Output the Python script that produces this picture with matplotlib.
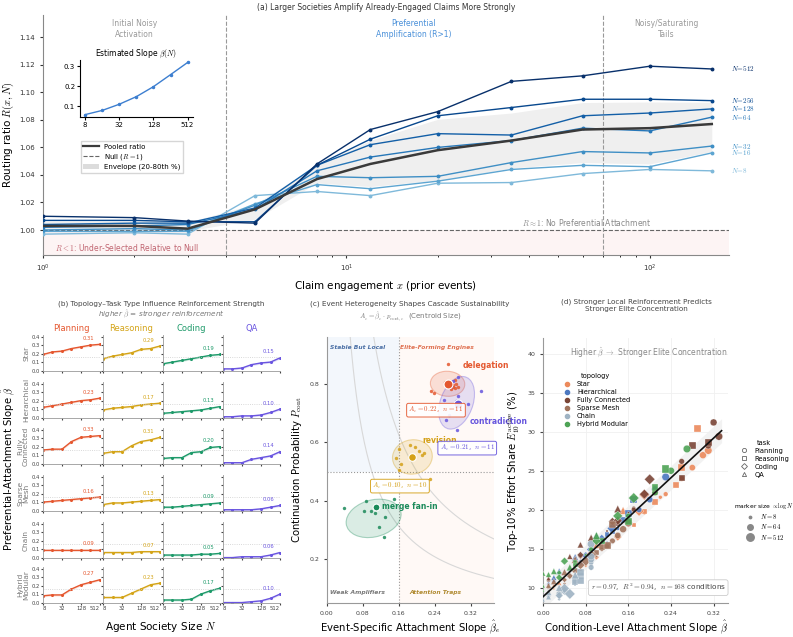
import numpy as np
import matplotlib
matplotlib.use("Agg")
import matplotlib.pyplot as plt
from matplotlib.patches import Ellipse, Patch
from matplotlib.lines import Line2D
from matplotlib.colors import to_rgba

plt.rcParams['font.family'] = ['DejaVu Sans']
plt.rcParams['mathtext.fontset'] = 'cm'

# ---------------- panel (a) data ----------------
engagement_x = [1, 2, 3, 5, 8, 12, 20, 35, 60, 100, 160]
society_sizes = [8, 16, 32, 64, 128, 256, 512]
ratio_n8 = [0.997, 0.998, 0.997, 1.025, 1.028, 1.025, 1.034, 1.0345, 1.041, 1.044, 1.043]
ratio_n16 = [0.999, 0.999, 0.999, 1.019, 1.033, 1.030, 1.0355, 1.044, 1.047, 1.046, 1.056]
ratio_n32 = [1.000, 1.001, 1.000, 1.018, 1.039, 1.038, 1.039, 1.049, 1.057, 1.056, 1.061]
ratio_n64 = [1.002, 1.003, 1.004, 1.015, 1.043, 1.053, 1.060, 1.065, 1.074, 1.072, 1.082]
ratio_n128 = [1.004, 1.005, 1.005, 1.016, 1.047, 1.062, 1.070, 1.069, 1.083, 1.085, 1.088]
ratio_n256 = [1.007, 1.007, 1.006, 1.006, 1.047, 1.066, 1.083, 1.089, 1.095, 1.095, 1.094]
ratio_n512 = [1.010, 1.009, 1.0065, 1.005, 1.048, 1.073, 1.086, 1.108, 1.112, 1.119, 1.117]
pooled_ratio = [1.003, 1.003, 1.001, 1.015, 1.037, 1.048, 1.058, 1.065, 1.073, 1.074, 1.077]
slope_beta = [0.058, 0.079, 0.110, 0.148, 0.198, 0.258, 0.319]

# ---------------- panel (b) data: rows = task (Planning, Reasoning, Coding, QA) ----------------
topologies = ['Star', 'Hierarchical', 'Fully Connected', 'Sparse Mesh', 'Chain', 'Hybrid Modular']
row_labels = ['Star', 'Hierarchical', 'Fully\nConnected', 'Sparse\nMesh', 'Chain', 'Hybrid\nModular']
tasks = ['Planning', 'Reasoning', 'Coding', 'QA']
beta_star = [[0.19, 0.22, 0.23, 0.26, 0.28, 0.30, 0.31],
             [0.14, 0.17, 0.19, 0.21, 0.25, 0.26, 0.29],
             [0.08, 0.10, 0.12, 0.14, 0.16, 0.18, 0.19],
             [0.02, 0.02, 0.03, 0.07, 0.09, 0.10, 0.15]]
beta_hier = [[0.12, 0.14, 0.16, 0.18, 0.20, 0.21, 0.23],
             [0.09, 0.11, 0.12, 0.13, 0.15, 0.16, 0.17],
             [0.05, 0.06, 0.07, 0.08, 0.09, 0.11, 0.13],
             [0.01, 0.01, 0.02, 0.02, 0.03, 0.06, 0.10]]
beta_full = [[0.16, 0.17, 0.17, 0.26, 0.31, 0.32, 0.33],
             [0.12, 0.14, 0.14, 0.21, 0.26, 0.28, 0.31],
             [0.06, 0.07, 0.07, 0.13, 0.14, 0.19, 0.20],
             [0.01, 0.01, 0.01, 0.05, 0.07, 0.09, 0.14]]
beta_sparse = [[0.10, 0.11, 0.12, 0.13, 0.14, 0.15, 0.16],
               [0.07, 0.09, 0.09, 0.10, 0.11, 0.12, 0.13],
               [0.04, 0.04, 0.05, 0.06, 0.07, 0.08, 0.09],
               [0.01, 0.01, 0.01, 0.01, 0.02, 0.04, 0.06]]
beta_chain = [[0.09, 0.09, 0.09, 0.09, 0.09, 0.09, 0.09],
              [0.06, 0.06, 0.06, 0.06, 0.07, 0.07, 0.07],
              [0.03, 0.03, 0.03, 0.03, 0.04, 0.04, 0.05],
              [0.00, 0.00, 0.01, 0.01, 0.01, 0.03, 0.06]]
beta_hybrid = [[0.08, 0.09, 0.09, 0.16, 0.21, 0.24, 0.27],
               [0.06, 0.06, 0.06, 0.11, 0.16, 0.21, 0.23],
               [0.03, 0.03, 0.03, 0.04, 0.10, 0.14, 0.17],
               [0.00, 0.00, 0.00, 0.01, 0.02, 0.05, 0.10]]
beta_all = [beta_star, beta_hier, beta_full, beta_sparse, beta_chain, beta_hybrid]

# ---------------- panel (c) data ----------------
event_names = ['delegation', 'contradiction', 'revision', 'merge fan-in']
event_n = [11, 11, 10, 10]
centroid_beta = [0.270, 0.290, 0.190, 0.110]
centroid_pcont = [0.800, 0.732, 0.550, 0.380]
deleg_beta = [0.269, 0.285, 0.280, 0.284, 0.279, 0.290, 0.232, 0.237, 0.262, 0.275, 0.287]
deleg_p = [0.868, 0.814, 0.797, 0.785, 0.789, 0.789, 0.777, 0.768, 0.806, 0.782, 0.800]
contra_beta = [0.292, 0.341, 0.313, 0.259, 0.290, 0.271, 0.265, 0.289, 0.281, 0.275, 0.287]
contra_p = [0.823, 0.777, 0.730, 0.745, 0.757, 0.692, 0.677, 0.643, 0.811, 0.791, 0.740]
revis_beta = [0.160, 0.184, 0.195, 0.216, 0.212, 0.154, 0.164, 0.161, 0.230, 0.205]
revis_p = [0.576, 0.591, 0.583, 0.563, 0.555, 0.546, 0.525, 0.506, 0.474, 0.570]
merge_beta = [0.039, 0.086, 0.082, 0.099, 0.107, 0.130, 0.117, 0.127, 0.150, 0.112]
merge_p = [0.374, 0.400, 0.365, 0.366, 0.357, 0.346, 0.312, 0.277, 0.405, 0.380]
# spread ellipse of each event cluster (centre, extent along beta and p, tilt)
spread_cx = [0.268, 0.288, 0.190, 0.104]
spread_cy = [0.800, 0.735, 0.550, 0.340]
spread_w = [0.076, 0.074, 0.088, 0.112]
spread_h = [0.086, 0.182, 0.118, 0.140]
spread_angle = [10, -10, -5, -35]
iso_levels = [0.05, 0.10]

# ---------------- panel (d) data: top-10% effort share (%) ----------------
e10_star = [[19.5, 21.6, 22.0, 24.0, 25.4, 27.0, 27.6],
            [16.4, 18.0, 19.8, 21.0, 23.2, 25.4, 30.4],
            [12.8, 13.9, 15.5, 16.5, 18.3, 19.8, 21.9],
            [9.9, 10.3, 10.6, 13.4, 14.0, 15.5, 19.9]]
e10_hier = [[15.8, 17.6, 18.6, 20.0, 21.3, 22.6, 24.2],
            [14.3, 15.9, 16.8, 17.2, 18.7, 19.5, 21.3],
            [12.1, 12.4, 13.2, 14.1, 14.9, 16.2, 17.6],
            [10.0, 10.6, 11.0, 11.3, 12.1, 13.9, 16.6]]
e10_full = [[19.6, 20.2, 20.0, 26.2, 28.2, 31.2, 29.4],
            [17.3, 18.6, 18.2, 22.2, 24.1, 28.2, 28.6],
            [13.4, 14.0, 14.2, 18.5, 18.6, 22.0, 23.9],
            [11.4, 11.0, 11.2, 14.0, 15.5, 16.4, 20.1]]
e10_sparse = [[14.0, 14.9, 15.3, 16.0, 16.7, 17.5, 18.3],
              [12.3, 13.7, 14.1, 14.5, 15.2, 15.4, 18.1],
              [10.5, 11.0, 11.5, 12.2, 12.9, 13.4, 14.2],
              [9.8, 10.1, 9.5, 10.3, 10.8, 12.0, 13.6]]
e10_chain = [[12.4, 12.9, 13.2, 12.6, 13.6, 14.0, 15.6],
             [10.4, 10.9, 11.2, 10.7, 11.5, 12.0, 10.9],
             [8.5, 8.9, 9.3, 9.0, 9.6, 9.9, 9.2],
             [8.6, 8.4, 9.1, 8.8, 9.4, 10.0, 11.6]]
e10_hybrid = [[14.2, 15.0, 14.9, 19.2, 22.2, 25.0, 27.8],
              [12.6, 13.3, 12.9, 16.0, 18.5, 22.9, 25.2],
              [11.6, 11.9, 11.3, 13.4, 16.0, 19.2, 21.5],
              [9.6, 10.2, 11.8, 11.7, 12.1, 12.6, 16.7]]
e10_all = [e10_star, e10_hier, e10_full, e10_sparse, e10_chain, e10_hybrid]

task_colors = ['#e5572f', '#d4a418', '#1e9a6a', '#6a55e0']
topo_colors = ['#ec8a5c', '#4c78c0', '#7a4536', '#a0735c', '#9fb3c3', '#4ea355']
task_markers = ['o', 's', 'D', '^']
event_colors = ['#e4572e', '#6655dd', '#d4a017', '#1b8a5a']

fig = plt.figure(figsize=(7.93, 6.37), dpi=100)

# =============== (a) ===============
ax = fig.add_axes([0.054, 0.600, 0.865, 0.376])
ax.set_xscale('log')
ax.set_xlim(1, 182)
ax.set_ylim(0.982, 1.156)
ax.axhspan(0.982, 1.0, color='#fdf4f4', zorder=0, lw=0)
curves = np.array([ratio_n8, ratio_n16, ratio_n32, ratio_n64, ratio_n128, ratio_n256, ratio_n512])
lo = np.percentile(curves, 20, axis=0)
hi = np.percentile(curves, 80, axis=0)
ax.fill_between(engagement_x, lo, hi, color='#dcdcdc', alpha=0.45, lw=0, zorder=1)
blues = plt.cm.Blues(np.linspace(0.45, 1.0, 7))
for n, r, c in zip(society_sizes, curves, blues):
    ax.plot(engagement_x, r, color=c, lw=1.0, marker='o', ms=1.8, zorder=3)
    ax.annotate(f'$N\\!=\\!{n}$', (engagement_x[-1], r[-1]), xytext=(14, 0),
                textcoords='offset points', color=c, fontsize=5.1, va='center',
                annotation_clip=False)
ax.plot(engagement_x, pooled_ratio, color='#3a3a3a', lw=1.8, zorder=4)
ax.axhline(1.0, color='#666666', ls='--', lw=0.8, zorder=2)
for xv in [4, 70]:
    ax.axvline(xv, color='#999999', ls='--', lw=0.8, zorder=2)
ax.text(2, 1.153, 'Initial Noisy\nActivation', ha='center', va='top', fontsize=5.5, color='#999999')
ax.text(16.7, 1.153, 'Preferential\nAmplification (R>1)', ha='center', va='top', fontsize=5.5, color='#4a90d9')
ax.text(113, 1.153, 'Noisy/Saturating\nTails', ha='center', va='top', fontsize=5.5, color='#999999')
ax.text(62, 1.0015, r'$R\approx1$: No Preferential Attachment', ha='center', va='bottom', fontsize=5.5, color='#888888')
ax.text(1.1, 0.987, r'$R<1$: Under-Selected Relative to Null', ha='left', va='center', fontsize=5.5, color='#c06470')
for s in ['top', 'right']:
    ax.spines[s].set_visible(False)
ax.spines['left'].set_color('#888888')
ax.spines['bottom'].set_color('#888888')
ax.set_yticks([1.00, 1.02, 1.04, 1.06, 1.08, 1.10, 1.12, 1.14])
ax.tick_params(labelsize=5, length=2.5, colors='#333333')
ax.tick_params(which='minor', length=1.5)
ax.set_ylabel(r'Routing ratio $R(x,N)$', fontsize=7.5, labelpad=2)
ax.set_xlabel(r'Claim engagement $x$ (prior events)', fontsize=7.5, labelpad=3)
ax.set_title('(a) Larger Societies Amplify Already-Engaged Claims More Strongly', fontsize=5.5, color='#333333', pad=4)
handles = [Line2D([], [], color='#3a3a3a', lw=1.6),
           Line2D([], [], color='#666666', ls='--', lw=0.8),
           Patch(facecolor='#dcdcdc', edgecolor='none')]
ax.legend(handles, ['Pooled ratio', r'Null ($R=1$)', 'Envelope (20-80th %)'],
          loc='upper left', bbox_to_anchor=(0.05, 0.49), fontsize=5, frameon=True,
          fancybox=False, edgecolor='#cccccc', handlelength=2.2, labelspacing=0.3,
          borderpad=0.4)

ins = fig.add_axes([0.101, 0.816, 0.142, 0.090])
ins.plot(society_sizes, slope_beta, color='#3d7fd0', marker='o', ms=1.5, lw=1.0)
ins.set_xscale('log', base=2)
ins.set_xticks([8, 32, 128, 512])
ins.set_xticklabels(['8', '32', '128', '512'])
ins.minorticks_off()
ins.set_yticks([0.1, 0.2, 0.3])
ins.tick_params(labelsize=5, length=2, pad=1.5)
for s in ['top', 'right']:
    ins.spines[s].set_visible(False)
ins.set_title(r'Estimated Slope $\beta(N)$', fontsize=5.5, pad=3)

# =============== (b) ===============
col_left = [0.0542, 0.1299, 0.2055, 0.2812]
row_bottom = [0.4176, 0.3438, 0.2716, 0.1978, 0.1240, 0.0534]
for i, (topo_vals, rlab) in enumerate(zip(beta_all, row_labels)):
    for j, (vals, tcol) in enumerate(zip(topo_vals, task_colors)):
        a = fig.add_axes([col_left[j], row_bottom[i], 0.0719, 0.0565])
        v = np.array(vals)
        a.fill_between(society_sizes, v - 0.012, v + 0.012, color=tcol, alpha=0.18, lw=0)
        a.plot(society_sizes, v, color=tcol, lw=1.0, marker='o', ms=1.2)
        a.axhline(0.16, color='#cccccc', ls=':', lw=0.6)
        a.annotate(f'{v[-1]:.2f}', (society_sizes[-1], v[-1]), xytext=(-4, 2.5),
                   textcoords='offset points', ha='right', va='bottom', fontsize=3.8, color=tcol)
        a.set_xscale('log', base=2)
        a.set_xlim(8, 512)
        a.set_ylim(-0.005, 0.42)
        a.set_xticks([8, 32, 128, 512])
        a.minorticks_off()
        a.set_yticks([0.0, 0.1, 0.2, 0.3, 0.4])
        a.tick_params(labelsize=3.8, length=1.5, pad=1, colors='#444444')
        for s in ['top', 'right']:
            a.spines[s].set_visible(False)
        for s in ['left', 'bottom']:
            a.spines[s].set_color('#999999')
            a.spines[s].set_linewidth(0.6)
        if i == len(beta_all) - 1:
            labs = a.set_xticklabels(['8', '32', '128', '512'])
            labs[0].set_ha('left')
            labs[-1].set_ha('right')
        else:
            a.set_xticklabels([])
        if j == 0:
            a.set_ylabel(rlab, fontsize=5.3, color='#777777', labelpad=1.5, linespacing=1.0)
        else:
            a.set_yticklabels([])
        if i == 0:
            a.set_title(tasks[j], fontsize=6, color=tcol, pad=3)
fig.text(0.203, 0.523, '(b) Topology–Task Type Influence Reinforcement Strength',
         ha='center', va='center', fontsize=5.2, color='#444444')
fig.text(0.203, 0.505, r'higher $\hat{\beta}$ = stronger reinforcement', ha='center',
         va='center', fontsize=5.2, color='#777777', style='italic')
fig.text(0.010, 0.264, r'Preferential-Attachment Slope $\hat{\beta}$', rotation=90,
         ha='center', va='center', fontsize=7.3)
fig.text(0.203, 0.016, r'Agent Society Size $N$', ha='center', va='center', fontsize=7.5)

# =============== (c) ===============
axc = fig.add_axes([0.412, 0.053, 0.211, 0.418])
xmax_c, ymin_c, ymax_c = 0.371, 0.05, 0.96
axc.set_xlim(0, xmax_c)
axc.set_ylim(ymin_c, ymax_c)
axc.fill_between([0, 0.16], 0.5, ymax_c, color='#f3f7fc', lw=0, zorder=0)
axc.fill_between([0.16, xmax_c], ymin_c, ymax_c, color='#fff9f6', lw=0, zorder=0)
xs_iso = np.linspace(0.02, xmax_c, 200)
for lev in iso_levels:
    axc.plot(xs_iso, lev / xs_iso, color='#d8d8d8', lw=0.8, zorder=1)
axc.axvline(0.16, color='#999999', ls=':', lw=0.8, zorder=1)
axc.axhline(0.5, color='#999999', ls=':', lw=0.8, zorder=1)
pts_beta = [deleg_beta, contra_beta, revis_beta, merge_beta]
pts_p = [deleg_p, contra_p, revis_p, merge_p]
label_off = [(10, 13), (9, -13), (7, 12), (4, 0)]
box_off = [(-9, -19), (7, -32), (-9, -21), None]
for k in range(4):
    col = event_colors[k]
    bx, py = np.array(pts_beta[k]), np.array(pts_p[k])
    cx, cy = centroid_beta[k], centroid_pcont[k]
    axc.add_patch(Ellipse((spread_cx[k], spread_cy[k]), spread_w[k], spread_h[k],
                          angle=spread_angle[k], facecolor=to_rgba(col, 0.16),
                          edgecolor=to_rgba(col, 0.35), lw=0.8, zorder=2))
    axc.scatter(bx, py, s=6, color=col, alpha=0.85, lw=0, zorder=3)
    area = cx * cy
    axc.scatter([cx], [cy], s=100 * area + 20, color=col, edgecolor='white', lw=0.8, zorder=4)
    axc.annotate(event_names[k], (cx, cy), xytext=label_off[k], textcoords='offset points',
                 fontsize=5.5, color=col, fontweight='bold', va='center', zorder=5)
    if box_off[k] is not None:
        axc.annotate(f'$A_e={area:.2f}$,  $n={event_n[k]}$', (cx, cy), xytext=box_off[k],
                     textcoords='offset points', fontsize=5, color=col, ha='center', va='center',
                     bbox=dict(boxstyle='round,pad=0.25', fc='white', ec=col, lw=0.7, alpha=0.9),
                     zorder=6)
axc.text(0.007, 0.925, 'Stable But Local', fontsize=4.3, color='#4a6fa5', style='italic', fontweight='bold', va='center')
axc.text(0.162, 0.925, 'Elite-Forming Engines', fontsize=4.3, color='#e07050', style='italic', fontweight='bold', va='center')
axc.text(0.007, 0.087, 'Weak Amplifiers', fontsize=4.3, color='#777777', style='italic', fontweight='bold', va='center')
axc.text(0.184, 0.087, 'Attention Traps', fontsize=4.3, color='#b08a30', style='italic', fontweight='bold', va='center')
axc.set_xticks([0.00, 0.08, 0.16, 0.24, 0.32])
axc.set_yticks([0.2, 0.4, 0.6, 0.8])
axc.tick_params(labelsize=4.5, length=2, colors='#444444')
for s in ['top', 'right']:
    axc.spines[s].set_visible(False)
for s in ['left', 'bottom']:
    axc.spines[s].set_color('#999999')
axc.set_xlabel(r'Event-Specific Attachment Slope $\hat{\beta}_e$', fontsize=7.3, labelpad=2)
axc.set_ylabel(r'Continuation Probability $P_{\mathrm{cont}}$', fontsize=7.3, labelpad=4)
fig.text(0.517, 0.523, '(c) Event Heterogeneity Shapes Cascade Sustainability',
         ha='center', va='center', fontsize=5.2, color='#444444')
fig.text(0.517, 0.503, r'$A_e=\hat{\beta}_e\cdot p_{\mathrm{cont},e}$  (Centroid Size)',
         ha='center', va='center', fontsize=5, color='#777777')

# =============== (d) ===============
axd = fig.add_axes([0.685, 0.053, 0.233, 0.416])
axd.set_xlim(0, 0.347)
axd.set_ylim(8, 42)
axd.grid(True, color='#f0f0f0', lw=0.6, zorder=0)
allx, ally = [], []
for ti in range(6):
    for tk in range(4):
        xv = np.array(beta_all[ti][tk])
        yv = np.array(e10_all[ti][tk])
        sizes = 3 + 26 * np.log2(np.array(society_sizes) / 8) / 6
        axd.scatter(xv, yv, s=sizes, marker=task_markers[tk], color=topo_colors[ti],
                    edgecolor='white', lw=0.25, alpha=0.9, zorder=3)
        allx.extend(xv)
        ally.extend(yv)
allx, ally = np.array(allx), np.array(ally)
slope, icpt = np.polyfit(allx, ally, 1)
resid_sd = np.std(ally - (slope * allx + icpt))
xl = np.linspace(0, 0.335, 50)
axd.fill_between(xl, slope * xl + icpt - 1.3 * resid_sd, slope * xl + icpt + 1.3 * resid_sd,
                 color='#e8e8e8', alpha=0.55, lw=0, zorder=1)
axd.plot(xl, slope * xl + icpt, color='#111111', lw=1.2, zorder=4)
axd.text(0.216, 10.0, r'$r=0.97$,  $R^2=0.94$,  $n=168$ conditions', ha='center', va='center',
         fontsize=5.3, color='#444444',
         bbox=dict(boxstyle='round,pad=0.3', fc='white', ec='#cccccc', lw=0.6), zorder=6)
axd.text(0.57, 0.947, r'Higher $\hat{\beta}$ $\rightarrow$ Stronger Elite Concentration',
         transform=axd.transAxes, ha='center', va='center', fontsize=5.5, color='#888888')
axd.set_xticks([0.00, 0.08, 0.16, 0.24, 0.32])
axd.set_yticks([10, 15, 20, 25, 30, 35, 40])
axd.tick_params(labelsize=4.5, length=2, colors='#444444')
for s in ['top', 'right']:
    axd.spines[s].set_visible(False)
for s in ['left', 'bottom']:
    axd.spines[s].set_color('#999999')
axd.set_xlabel(r'Condition-Level Attachment Slope $\hat{\beta}$', fontsize=7.3, labelpad=2)
axd.set_ylabel(r'Top-10% Effort Share $E_{10}^{\mathrm{active}}$ (%)', fontsize=7.3, labelpad=4)
fig.text(0.803, 0.521, '(d) Stronger Local Reinforcement Predicts\nStronger Elite Concentration',
         ha='center', va='center', fontsize=5.2, color='#444444')

topo_handles = [Line2D([], [], ls='none', marker='o', ms=3, color=c) for c in topo_colors]
leg1 = axd.legend(topo_handles, topologies, title='topology', loc='upper left',
                  bbox_to_anchor=(0.06, 0.89), fontsize=4.8, title_fontsize=4.8,
                  frameon=False, handletextpad=0.5, labelspacing=0.3)
axd.add_artist(leg1)
task_handles = [Line2D([], [], ls='none', marker=m, ms=3, markerfacecolor='none',
                       markeredgecolor='#666666', markeredgewidth=0.6) for m in task_markers]
leg2 = axd.legend(task_handles, tasks, title='task', loc='upper left',
                  bbox_to_anchor=(1.02, 0.64), fontsize=4.8, title_fontsize=4.8,
                  frameon=False, handletextpad=0.5, labelspacing=0.3)
axd.add_artist(leg2)
size_handles = [Line2D([], [], ls='none', marker='o', color='#888888',
                       ms=np.sqrt(3 + 26 * np.log2(n / 8) / 6)) for n in [8, 64, 512]]
axd.legend(size_handles, ['$N=8$', '$N=64$', '$N=512$'], title=r'marker size $\propto\log N$',
           loc='upper left', bbox_to_anchor=(1.0, 0.41), fontsize=4.8, title_fontsize=4.3,
           frameon=False, handletextpad=0.5, labelspacing=0.2)

fig.savefig('out.png', dpi=100)
